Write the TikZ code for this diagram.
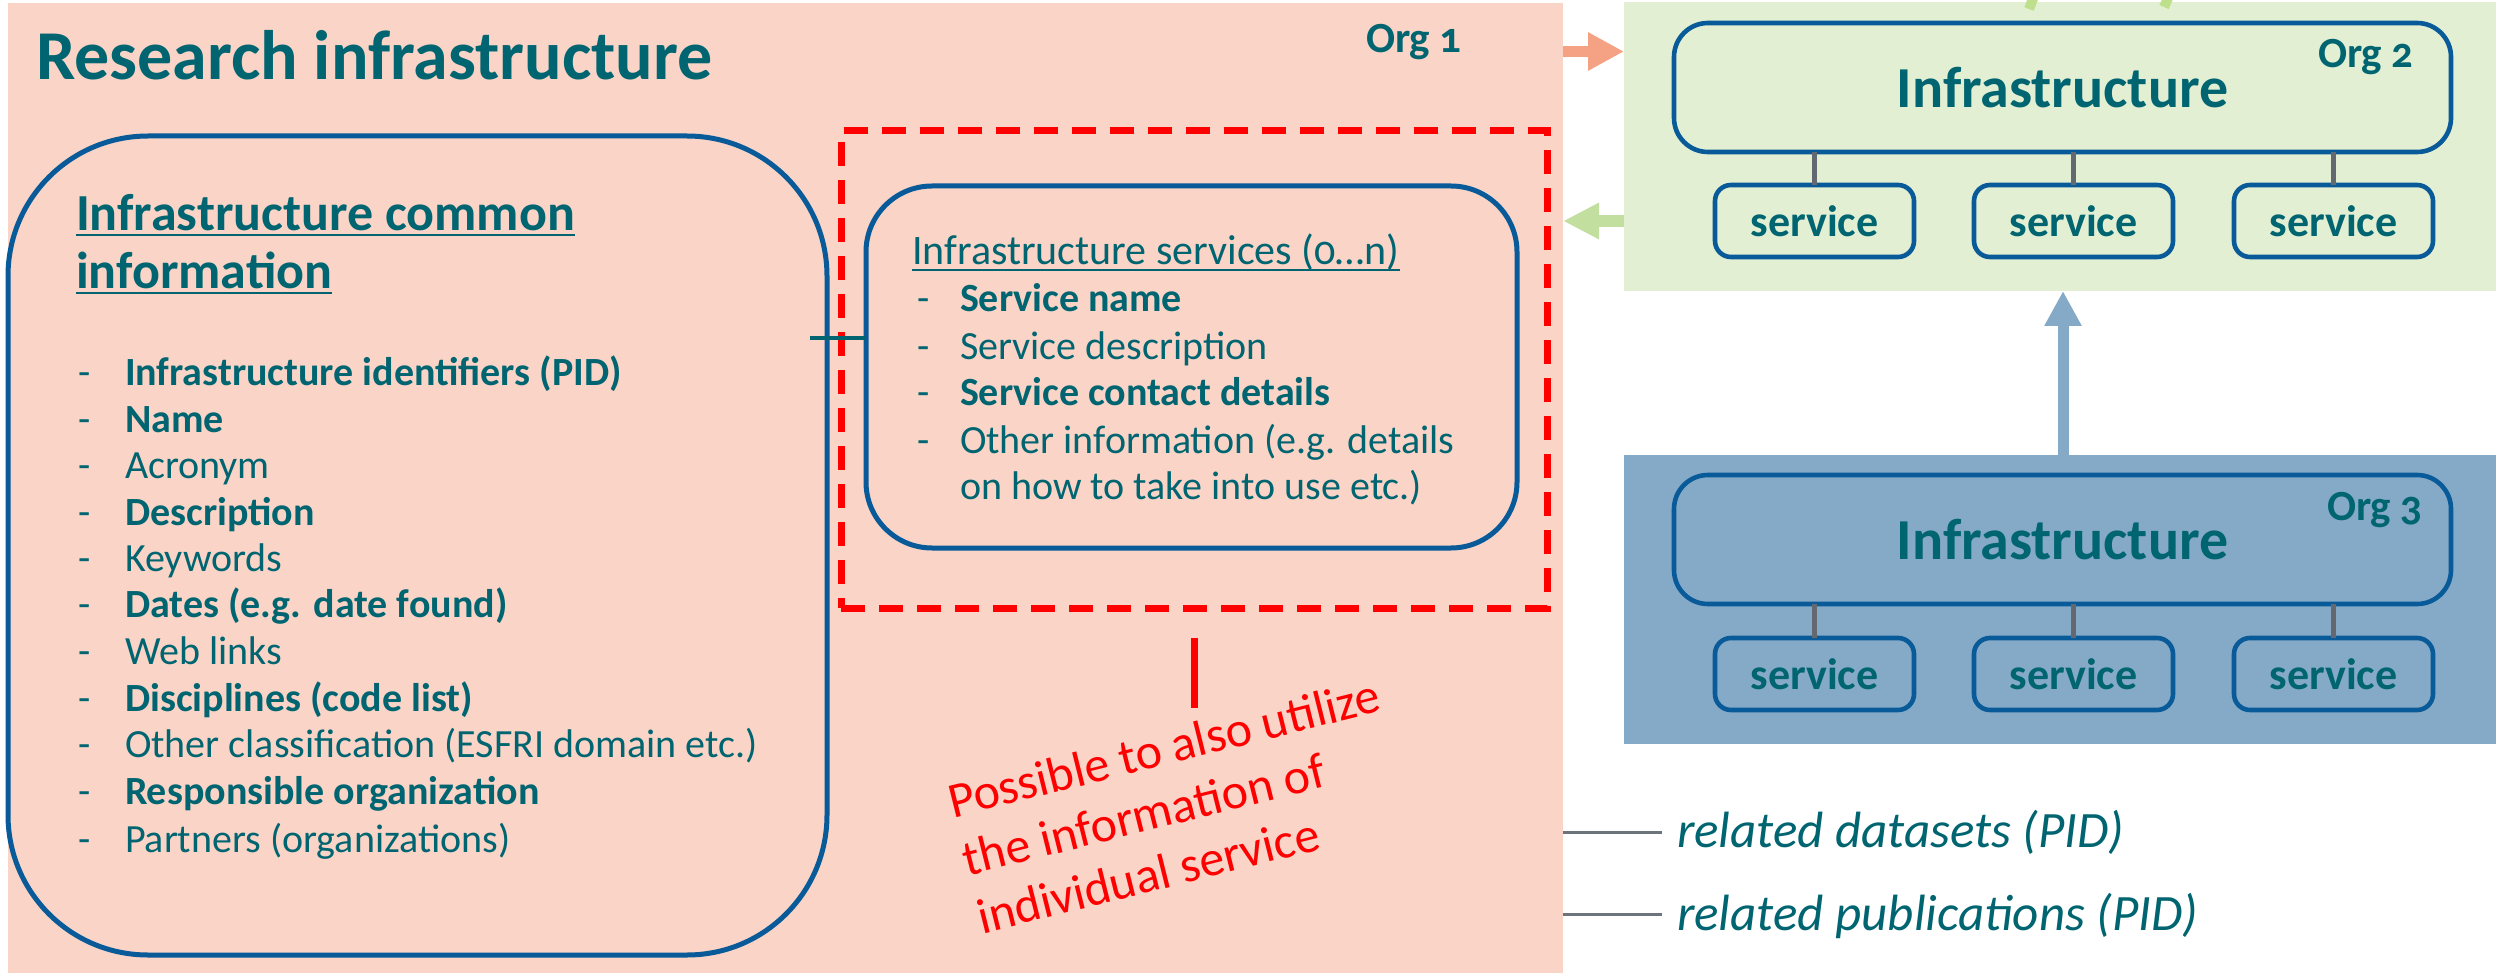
\documentclass[tikz,border=0pt]{standalone}
\usepackage{fontspec}
\setmainfont{Carlito}[Numbers=OldStyle]
\usetikzlibrary{arrows.meta,calc}
\definecolor{pinkbg}{RGB}{249,212,199}
\definecolor{greenbg}{RGB}{226,239,211}
\definecolor{bluebg}{RGB}{133,170,200}
\definecolor{boxblue}{RGB}{8,90,152}
\definecolor{tealtxt}{RGB}{0,101,112}
\definecolor{salmonarr}{RGB}{244,161,132}
\definecolor{greenarr}{RGB}{195,223,160}
\definecolor{stubgreen}{RGB}{190,224,140}
\definecolor{tickgray}{RGB}{100,104,112}
\definecolor{relgray}{RGB}{110,116,124}
\definecolor{notered}{RGB}{255,0,0}
\tikzset{
  every node/.style={inner sep=0pt, outer sep=0pt, text=tealtxt},
  bgrect/.style={rectangle, draw=none},
  infbox/.style={draw=boxblue, line width=2.3pt, rounded corners=17pt, minimum width=388.5pt, minimum height=64.5pt, font=\fontsize{29}{34}\selectfont\bfseries},
  svcbox/.style={draw=boxblue, line width=2.3pt, rounded corners=8pt, minimum width=99.5pt, minimum height=36pt, font=\fontsize{22}{26}\selectfont\bfseries},
  tickline/.style={draw=tickgray, line width=2.2pt},
  orglabel/.style={anchor=base west, font=\fontsize{21.5}{25}\selectfont\bfseries},
  itemtxt/.style={anchor=base west, font=\fontsize{20}{24}\selectfont},
  itembold/.style={anchor=base west, font=\fontsize{20}{24}\selectfont\bfseries},
  dashmark/.style={anchor=base west, font=\fontsize{20}{24}\selectfont},
  headtxt/.style={anchor=base west, font=\fontsize{21}{25}\selectfont},
  ulinethick/.style={draw=tealtxt, line width=1.4pt},
  ulinethin/.style={draw=tealtxt, line width=1pt},
  notetxt/.style={anchor=base west, rotate=14, text=notered, font=\fontsize{25}{30}\selectfont},
  reltxt/.style={anchor=base west, font=\fontsize{25.5}{30}\selectfont\itshape},
  relline/.style={draw=relgray, line width=1.5pt},
}
\begin{document}
\begin{tikzpicture}[x=0.5pt,y=-0.5pt]
\useasboundingbox (0,0) rectangle (2496,973);

% backgrounds
\node[bgrect, fill=pinkbg, minimum width=777.5pt, minimum height=485pt] (pink) at (785.5,488) {};
\node[bgrect, fill=greenbg, minimum width=436pt, minimum height=144.5pt] (green) at (2060,146.5) {};
\node[bgrect, fill=bluebg, minimum width=436pt, minimum height=144.5pt] (blue) at (2060,599.5) {};

% stubs of arrows at the top edge
\draw[stubgreen, line width=5pt] (2034,-4) -- (2029,9);
\draw[stubgreen, line width=5pt] (2169,-4) -- (2164,7);

% title
\node[anchor=base west, font=\fontsize{35}{42}\selectfont\bfseries] (title) at (36,80) {Research infrastructure};
\node[orglabel] (org1) at (1366,53) {Org 1};

% left common information box
\node[draw=boxblue, line width=2.5pt, rounded corners=70pt, minimum width=409.5pt, minimum height=409.5pt] (common) at (417.5,545.5) {};
\node[anchor=base west, font=\fontsize{26}{31}\selectfont\bfseries] (h1) at (76,231) {Infrastructure common};
\node[anchor=base west, font=\fontsize{26}{31}\selectfont\bfseries] (h2) at (76,289) {information};
\draw[ulinethick] ([yshift=-2pt]h1.base west) -- ([yshift=-2pt]h1.base east);
\draw[ulinethick] ([yshift=-2pt]h2.base west) -- ([yshift=-2pt]h2.base east);

\foreach \y in {386,432,478,525,571,617,664,711,757,804,852}
  \node[dashmark] at (78,\y) {-};
\node[itembold] (i1) at (125,386) {Infrastructure identifiers (PID)};
\node[itembold] (i2) at (125,432) {Name};
\node[itemtxt]  (i3) at (125,478) {Acronym};
\node[itembold] (i4) at (125,525) {Description};
\node[itemtxt]  (i5) at (125,571) {Keywords};
\node[itembold] (i6) at (125,617) {Dates (e.g. date found)};
\node[itemtxt]  (i7) at (125,664) {Web links};
\node[itembold] (i8) at (125,711) {Disciplines (code list)};
\node[itemtxt]  (i9) at (125,757) {Other classification (ESFRI domain etc.)};
\node[itembold] (i10) at (125,804) {Responsible organization};
\node[itemtxt]  (i11) at (125,852) {Partners (organizations)};

% dashed region and services box
\node[draw=notered, line width=3.5pt, dash pattern=on 12pt off 7pt, minimum width=353pt, minimum height=238.5pt] (dbox) at (1194,369.5) {};
\node[draw=boxblue, line width=2.5pt, rounded corners=33pt, minimum width=325.5pt, minimum height=181pt] (svcs) at (1191.5,367) {};
\coordinate (cstart) at (810,338);
\draw[draw=tealtxt, line width=2pt] (cstart) -- (svcs.west |- cstart);

\node[headtxt] (sh) at (912,265) {Infrastructure services (0…n)};
\draw[ulinethin] ([yshift=-2.5pt]sh.base west) -- ([yshift=-2.5pt]sh.base east);
\foreach \y in {312,359,406,453}
  \node[dashmark] at (917,\y) {-};
\node[itembold] (s1) at (960,312) {Service name};
\node[itemtxt]  (s2) at (960,359) {Service description};
\node[itembold] (s3) at (960,406) {Service contact details};
\node[itemtxt]  (s4) at (960,453) {Other information (e.g. details};
\node[itemtxt]  (s5) at (960,499) {on how to take into use etc.)};

% red note
\coordinate (rtop) at (1194,638);
\coordinate (rbot) at (1194,708);
\draw[notered, line width=3.5pt] (rtop) -- (rbot);
\node[notetxt] (n1) at (953,818) {Possible to also utilize};
\node[notetxt] (n2) at (967.5,876) {the information of};
\node[notetxt] (n3) at (982,934) {individual service};

% Org 2
\node[infbox] (inf2) at (2062.5,87.5) {Infrastructure};
\node[orglabel] (org2) at (2318,68) {Org 2};
\node[svcbox] (a1) at (1814.5,221) {service};
\node[svcbox] (a2) at (2073.5,221) {service};
\node[svcbox] (a3) at (2333.5,221) {service};
\draw[tickline] (a1.north) -- (a1.north |- inf2.south);
\draw[tickline] (a2.north) -- (a2.north |- inf2.south);
\draw[tickline] (a3.north) -- (a3.north |- inf2.south);

% Org 3
\node[infbox] (inf3) at (2062.5,539.5) {Infrastructure};
\node[orglabel] (org3) at (2327,520) {Org 3};
\node[svcbox] (b1) at (1814.5,674) {service};
\node[svcbox] (b2) at (2073.5,674) {service};
\node[svcbox] (b3) at (2333.5,674) {service};
\draw[tickline] (b1.north) -- (b1.north |- inf3.south);
\draw[tickline] (b2.north) -- (b2.north |- inf3.south);
\draw[tickline] (b3.north) -- (b3.north |- inf3.south);

% arrows between organisations
\coordinate (pa) at (1563,51.5);
\draw[salmonarr, line width=5.5pt, -{Triangle[length=18pt,width=18pt]}] (pa) -- (green.west |- pa);
\coordinate (ga) at (1624,221);
\draw[greenarr, line width=6pt, -{Triangle[length=18pt,width=17pt]}] (ga) -- (pink.east |- ga);
\draw[bluebg, line width=5.5pt, -{Triangle[length=17.5pt,width=17.5pt]}] (blue.north -| 2063,0) -- (green.south -| 2063,0);

% related items
\coordinate (l1) at (1563,832);
\coordinate (l2) at (1563,914);
\node[reltxt] (rd) at (1677,847) {related datasets (PID)};
\node[reltxt] (rp) at (1677,930) {related publications (PID)};
\draw[relline] (l1) -- (l1 -| 1662,0);
\draw[relline] (l2) -- (l2 -| 1662,0);
\end{tikzpicture}
\end{document}
